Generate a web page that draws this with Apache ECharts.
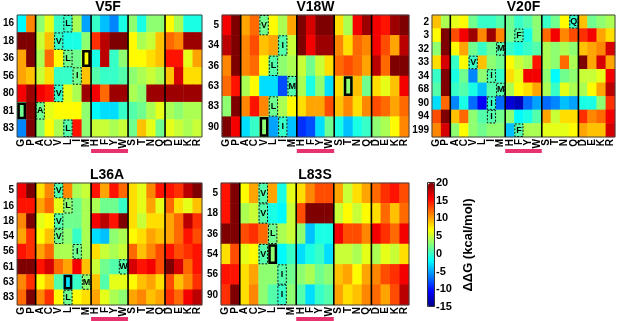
<!DOCTYPE html>
<html>
<head>
<meta charset="utf-8">
<script src="https://cdn.jsdelivr.net/npm/echarts@6/dist/echarts.min.js"></script>
<style>
  html, body { margin: 0; padding: 0; background: #fff; }
  #chart { width: 617px; height: 321px; }
</style>
</head>
<body>
<div id="chart"></div>
<script>
// 氨基酸顺序 (x 轴)
const aminoAcids = ['G','P','A','C','V','L','I','M','H','F','Y','W','S','T','N','Q','D','E','K','R'];
const groupBreaks = [2, 8, 12, 16];   // 竖分隔线位置
const aromaticRange = [8, 12];        // 粉色条 H..W

// V5F
const v5fRows = ['16','18','36','56','80','81','83'];
const v5fValues = [
  [-2, 11, 3, 6, 0, 0, 4, -5, 0, -4, -6, -1, 3, -1, 3, 3, 7, 4, -1, -1],
  [20, 20, 5, 9, 0, -1, -1, 3, 14, 18, 20, 20, 7, 4, 5, 9, 12, 11, 19, 19],
  [10, 20, 4, 12, 7, 2, 2, 7, -1, 18, 0, 3, 7, 7, 8, 9, 15, 15, 6, 10],
  [10, 9, 5, 8, 0, 0, 2, 9, 1, 0, 0, 1, 3, 4, 5, 4, 9, 17, 8, 8],
  [16, 19, 16, 15, 0, 6, 4, 19, 16, 12, 19, 19, 4, 3, 19, 19, 19, 19, 19, 19],
  [2, 20, 2, 6, 7, 7, 7, 3, -2, -3, -3, 0, 1, 2, 4, 6, 4, 3, 4, 4],
  [-6, 20, 3, 7, 4, 1, 15, 3, 5, 5, 4, 5, 2, 9, 6, 2, 6, 5, 4, 5]
];
const v5fWild = [[5,0],[4,1],[5,2],[6,3],[4,4],[2,5],[5,6]];
const v5fMutant = [[7,2],[0,5]];

// V18W
const v18wRows = ['5','34','36','63','83','90'];
const v18wValues = [
  [16, 20, 10, 12, 2, 7, 4, 10, 20, 17, 20, 20, 8, 4, 16, 19, 16, 15, 19, 20],
  [18, 20, 11, 13, 9, 10, 1, 5, 20, 16, 19, 19, 11, 8, 12, 11, 16, 13, 10, 18],
  [11, 20, 11, 12, 7, 1, 3, 4, 5, 2, 5, 8, 12, 13, 12, 10, 18, 12, 20, 20],
  [12, 15, 4, 7, -3, -3, -8, 1, 4, -1, 3, -3, 8, 3, 9, 2, 8, 6, 9, 16],
  [3, 20, 11, 15, 11, 2, 4, 7, 8, 10, 10, 13, 9, 11, 8, 11, 13, 12, 10, 12],
  [20, 16, -3, 0, 3, -5, 0, -4, -9, -8, -3, 2, -1, -4, -1, 0, 3, 4, 7, 11]
];
const v18wWild = [[4,0],[6,1],[5,2],[7,3],[5,4],[6,5]];
const v18wMutant = [[13,3],[4,5]];

// V20F
const v20fRows = ['2','3','32','33','34','68','90','94','199'];
const v20fValues = [
  [9, 4, 6, 7, 2, 0, 0, 1, 2, 0, 1, 3, 0, 2, 7, 0, 9, 2, 3, 4],
  [7, 20, 13, 16, 19, 11, 19, 11, 2, 1, -1, 3, 12, 16, 11, 13, 14, 16, 10, 8],
  [3, 20, 7, 10, 2, 0, 2, 1, 0, -1, 0, 1, 4, 3, 4, 3, 9, 10, 11, 17],
  [8, 17, 0, 7, 0, 9, 3, 2, 7, 5, 4, 15, 4, 3, 12, 4, 20, 10, 17, 10],
  [0, 20, -1, 2, -6, 3, 1, 0, 8, 6, 16, 16, 3, -2, 2, 3, 5, 5, 6, 16],
  [1, 20, 0, 1, -1, -4, 1, 1, 4, 7, 8, 10, 4, 0, 6, 4, 4, 7, 10, 18],
  [-3, 12, -6, -1, -7, -11, 0, -7, -12, -13, -7, -5, -7, -6, -4, -5, -1, -1, 3, 14],
  [13, 20, 9, 12, 3, 1, 1, 2, 3, -2, -1, 1, 10, 5, 8, 8, 14, 11, 12, 16],
  [11, 17, 3, 7, 3, 2, 3, 3, -4, 1, 4, 4, 6, 6, 6, 7, 10, 9, 9, 17]
];
const v20fWild = [[15,0],[9,1],[7,2],[4,3],[6,4],[7,5],[6,6],[6,7],[9,8]];
const v20fMutant = [];

// L36A
const l36aRows = ['5','16','18','54','56','61','63','83'];
const l36aValues = [
  [16, 20, 8, 11, 1, 11, 4, 5, 15, 10, 15, 12, 8, 6, 11, 15, 15, 14, 18, 20],
  [15, 15, 10, 12, 6, 3, 2, 4, 4, 2, 2, 0, 8, 6, 10, 6, 12, 8, 6, 9],
  [11, 20, 6, 7, 1, 2, 2, 4, 16, 18, 15, 20, 8, 5, 8, 8, 10, 12, 18, 14],
  [10, 14, 7, 9, 2, 3, 0, 4, -3, -4, 3, 4, 7, 8, 10, 9, 10, 12, 15, 13],
  [15, 14, 10, 12, 4, 4, 2, 4, 8, 5, 4, 5, 12, 9, 11, 13, 15, 13, 14, 15],
  [20, 20, 15, 17, 12, 10, 16, 9, 5, 2, 1, 1, 17, 15, 16, 13, 20, 17, 12, 15],
  [11, 14, 7, 9, 1, -3, 0, 3, 9, 1, 6, 6, 7, 9, 10, 8, 13, 9, 11, 14],
  [12, 20, 11, 14, 7, 2, 7, 8, 10, 6, 4, 3, 10, 11, 9, 10, 14, 12, 16, 18]
];
const l36aWild = [[4,0],[5,1],[4,2],[4,3],[6,4],[11,5],[7,6],[5,7]];
const l36aMutant = [[5,6]];

// L83S
const l83sRows = ['5','18','36','54','56','90'];
const l83sValues = [
  [15, 20, 7, 10, 1, 10, -1, 6, 8, 11, 13, 13, 10, 5, 8, 10, 12, 14, 15, 13],
  [15, 20, 4, 5, 1, -1, -2, 5, 13, 20, 20, 20, 5, 7, 5, 7, 8, 12, 9, 12],
  [20, 20, 13, 14, 12, 2, 4, 5, 3, -4, -1, -1, 16, 13, 13, 11, 16, 14, 12, 16],
  [8, 13, 6, 7, 1, 3, -2, 0, -3, -1, 0, -3, 5, 5, 4, 6, 4, 6, 5, 8],
  [15, 15, 8, 10, 3, 3, 1, 2, 3, 4, 2, 3, 9, 10, 7, 10, 11, 13, 14, 16],
  [14, 20, 8, 11, 3, 1, 0, 3, 1, -3, 0, 1, 10, 8, 9, 11, 12, 10, 13, 18]
];
const l83sWild = [[4,0],[4,1],[5,2],[4,3],[6,4],[6,5]];
const l83sMutant = [[5,3]];

// 色标刻度
const colorMin = -15;
const colorMax = 20;
const jetColors = ['#00007f','#0000ff','#007fff','#00ffff','#7fff7f','#ffff00','#ff7f00','#ff0000','#7f0000'];

const FONT = '"Liberation Sans", Arial, sans-serif';

const panels = [
  { title: 'V5F',  rows: v5fRows,  values: v5fValues,  wild: v5fWild,  mutant: v5fMutant,  pos: [14, 15, 188, 122] },
  { title: 'V18W', rows: v18wRows, values: v18wValues, wild: v18wWild, mutant: v18wMutant, pos: [222, 15, 187, 122] },
  { title: 'V20F', rows: v20fRows, values: v20fValues, wild: v20fWild, mutant: v20fMutant, pos: [432, 15, 183, 122] },
  { title: 'L36A', rows: l36aRows, values: l36aValues, wild: l36aWild, mutant: l36aMutant, pos: [12, 183, 190, 122] },
  { title: 'L83S', rows: l83sRows, values: l83sValues, wild: l83sWild, mutant: l83sMutant, pos: [221, 183, 188, 122] }
];

// 野生型残基: 虚线框 + 字母
function renderWild(params, api) {
  const c = api.coord([api.value(0), api.value(1)]);
  const s = api.size([1, 1]);
  return {
    type: 'group',
    children: [
      {
        type: 'rect',
        shape: { x: c[0] - s[0] / 2 + 0.5, y: c[1] - s[1] / 2 + 0.5, width: s[0] - 1, height: s[1] - 1 },
        style: { fill: null, stroke: '#111', lineWidth: 1, lineDash: [2, 1.5] }
      },
      {
        type: 'text',
        style: {
          text: aminoAcids[api.value(0)], x: c[0], y: c[1],
          align: 'center', verticalAlign: 'middle',
          font: 'bold 9px ' + FONT, fill: '#000'
        }
      }
    ]
  };
}

// 突变位置: 粗实线框
function renderMutant(params, api) {
  const c = api.coord([api.value(0), api.value(1)]);
  const s = api.size([1, 1]);
  return {
    type: 'rect',
    shape: { x: c[0] - s[0] / 2 + 1.5, y: c[1] - s[1] / 2 + 1.5, width: s[0] - 3, height: s[1] - 3 },
    style: { fill: null, stroke: '#000', lineWidth: 2.5 }
  };
}

// 边框、分组线、粉色条
function renderDecor(params, api) {
  const cs = params.coordSys;
  const w = cs.width / aminoAcids.length;
  const children = [{
    type: 'rect',
    shape: { x: cs.x, y: cs.y, width: cs.width, height: cs.height },
    style: { fill: null, stroke: '#444', lineWidth: 1 }
  }];
  groupBreaks.forEach(function (b) {
    const x = cs.x + b * w;
    children.push({
      type: 'line',
      shape: { x1: x, y1: cs.y, x2: x, y2: cs.y + cs.height },
      style: { stroke: '#000', lineWidth: 1.6 }
    });
  });
  children.push({
    type: 'rect',
    shape: { x: cs.x + aromaticRange[0] * w, y: cs.y + cs.height + 12, width: (aromaticRange[1] - aromaticRange[0]) * w, height: 4 },
    style: { fill: '#e8326e' }
  });
  return { type: 'group', children: children };
}

const grids = [], xAxes = [], yAxes = [], series = [], graphics = [];
const heatmapIndices = [];

panels.forEach(function (p, i) {
  grids.push({ left: p.pos[0], top: p.pos[1], width: p.pos[2], height: p.pos[3] });
  xAxes.push({
    type: 'category', gridIndex: i, data: aminoAcids,
    axisLine: { show: false }, axisTick: { show: false }, splitLine: { show: false },
    axisLabel: { interval: 0, rotate: 90, margin: 2, color: '#000', fontWeight: 'bold', fontSize: 10, fontFamily: FONT }
  });
  yAxes.push({
    type: 'category', gridIndex: i, data: p.rows, inverse: true,
    axisLine: { show: false }, axisTick: { show: false }, splitLine: { show: false },
    axisLabel: { margin: 3, color: '#000', fontWeight: 'bold', fontSize: 10, fontFamily: FONT }
  });

  const data = [];
  p.values.forEach(function (row, r) {
    row.forEach(function (v, c) { data.push([c, r, v]); });
  });
  heatmapIndices.push(series.length);
  series.push({ type: 'heatmap', xAxisIndex: i, yAxisIndex: i, data: data, z: 2 });
  series.push({
    type: 'custom', xAxisIndex: i, yAxisIndex: i, data: p.wild,
    encode: { x: 0, y: 1 }, renderItem: renderWild, z: 4, silent: true
  });
  series.push({
    type: 'custom', xAxisIndex: i, yAxisIndex: i, data: p.mutant,
    encode: { x: 0, y: 1 }, renderItem: renderMutant, z: 5, silent: true
  });
  series.push({
    type: 'custom', xAxisIndex: i, yAxisIndex: i, data: [[0, 0]],
    encode: { x: 0, y: 1 }, renderItem: renderDecor, clip: false, z: 3, silent: true
  });

  graphics.push({
    type: 'text',
    x: p.pos[0] + p.pos[2] / 2, y: p.pos[1] - 8,
    style: {
      text: p.title, align: 'center', verticalAlign: 'middle',
      font: 'bold 14px ' + FONT, fill: '#000'
    }
  });
});

// 色标边框
graphics.push({
  type: 'rect', z: 100,
  shape: { x: 427.5, y: 182.5, width: 7, height: 124 },
  style: { fill: null, stroke: '#333', lineWidth: 1 }
});

// 色标的刻度轴
const cbIndex = panels.length;
grids.push({ left: 428, top: 183, width: 7, height: 124 });
xAxes.push({ type: 'value', gridIndex: cbIndex, show: false });
yAxes.push({
  type: 'value', gridIndex: cbIndex, position: 'right',
  min: colorMin, max: colorMax, interval: 5,
  name: 'ΔΔG (kcal/mol)', nameLocation: 'middle', nameGap: 27, nameRotate: 90,
  nameTextStyle: { color: '#000', fontWeight: 'bold', fontSize: 13, fontFamily: FONT },
  axisLine: { show: false }, axisTick: { show: false }, splitLine: { show: false },
  axisLabel: { margin: 1, color: '#000', fontWeight: 'bold', fontSize: 11, fontFamily: FONT }
});

const chart = echarts.init(document.getElementById('chart'));
chart.setOption({
  animation: false,
  backgroundColor: '#fff',
  grid: grids,
  xAxis: xAxes,
  yAxis: yAxes,
  visualMap: {
    type: 'continuous',
    min: colorMin, max: colorMax,
    dimension: 2,
    seriesIndex: heatmapIndices,
    calculable: false,
    orient: 'vertical',
    left: 428, top: 183,
    itemWidth: 7, itemHeight: 124,
    padding: 0,
    text: null,
    inRange: { color: jetColors }
  },
  graphic: graphics,
  series: series
});
</script>
</body>
</html>
